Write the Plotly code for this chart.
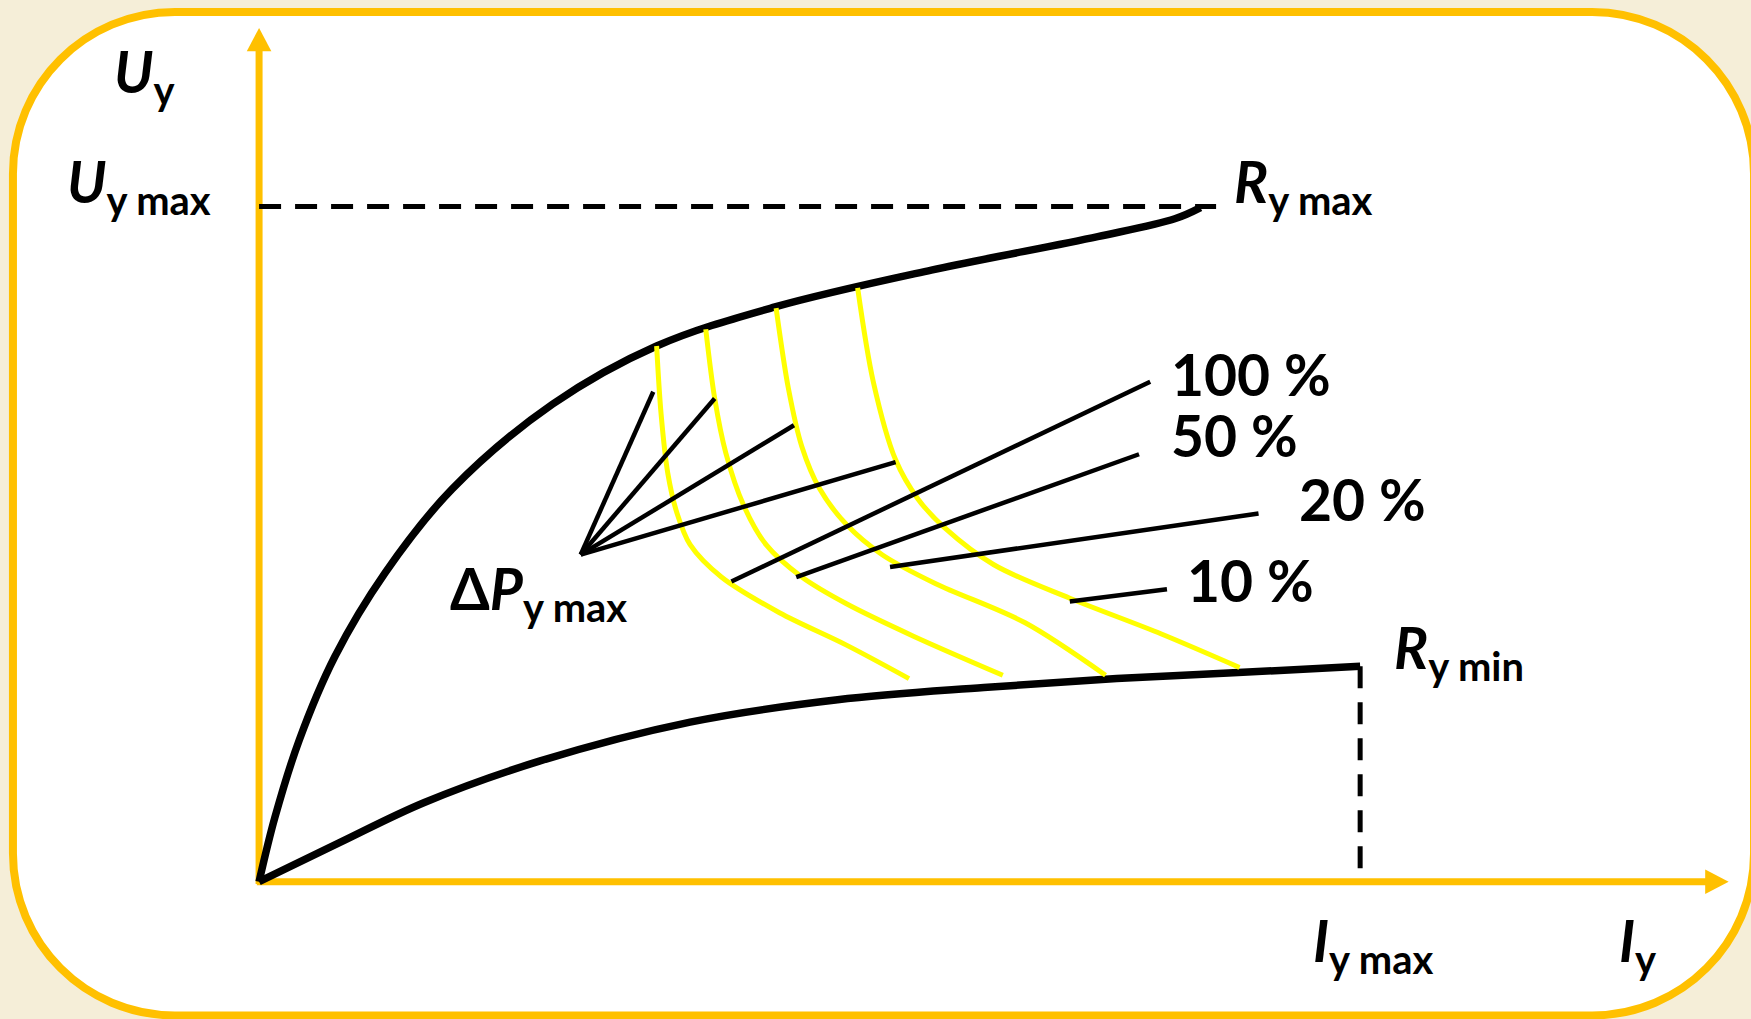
import plotly.graph_objects as go

# ---------------- data (diagram units = reference picture px / 1.1167) ----------------
# upper characteristic R_y max
r_max_x = [232, 246, 268, 300, 345, 405, 495, 588, 694, 834, 983, 1052, 1075]
r_max_y = [790, 733, 663, 588, 513, 438, 362, 310, 275, 242, 212, 196, 186]
# lower characteristic R_y min
r_min_x = [232, 304, 380, 483, 618, 750, 881, 1000, 1100, 1218]
r_min_y = [790, 755, 719, 682, 647, 627, 616, 608, 603, 597]

# constant-loss curves (yellow)
y1_x = [588, 592, 598, 606, 618, 646, 698, 758, 814]
y1_y = [310, 371, 424, 459, 488, 517, 549, 578, 608]
y2_x = [632, 640, 650, 666, 686, 718, 758, 818, 898]
y2_y = [295, 357, 406, 453, 488, 517, 541, 570, 605]
y3_x = [695, 706, 718, 734, 758, 790, 838, 918, 990]
y3_y = [276, 348, 400, 438, 470, 497, 523, 558, 605]
y4_x = [768, 782, 802, 822, 846, 890, 958, 1040, 1110]
y4_y = [258, 342, 412, 447, 473, 506, 536, 568, 598]
yellow_x = [y1_x, y2_x, y3_x, y4_x]
yellow_y = [y1_y, y2_y, y3_y, y4_y]

# pointer lines
fan_origin = (520, 497)
fan_end_x = [585, 640, 711, 802]
fan_end_y = [351, 357, 381, 414]
pct_start_x = [655, 713, 797, 958]
pct_start_y = [521, 517, 508, 539]
pct_end_x = [1030, 1020, 1127, 1045]
pct_end_y = [342, 407, 460, 528]

# reference levels
origin = (232, 790)
u_max_level = 185
u_max_dash_end = 1089
i_max_level = 1218
r_min_end_y = 597
y_axis_top = 25
x_axis_right = 1548

# labels: (text, left x, cap-top y)
label_text = [
    "<b><i>U</i><sub>y</sub></b>",
    "<b><i>U</i><sub>y max</sub></b>",
    "<b><i>R</i><sub>y max</sub></b>",
    "<b>100 %</b>",
    "<b>50 %</b>",
    "<b>20 %</b>",
    "<b>10 %</b>",
    "<b>Δ<i>P</i><sub>y max</sub></b>",
    "<b><i>R</i><sub>y min</sub></b>",
    "<b><i>I</i><sub>y max</sub></b>",
    "<b><i>I</i><sub>y</sub></b>",
]
label_x = [104, 62, 1107, 1050, 1050, 1165, 1065, 405, 1250, 1178, 1452]
label_y = [47, 145, 145, 318, 373, 430, 503, 510, 563, 825, 825]

# ---------------- styling ----------------
W, H = 1751, 1019
XR, YR = 1568, 913
GOLD = "#FFC000"
YELLOW = "#FFFF00"
BEIGE = "#F5EED8"
FONT = "Lato"

fig = go.Figure()

# main curves
fig.add_trace(go.Scatter(x=r_max_x, y=r_max_y, mode="lines",
                         line=dict(color="black", width=7.5, shape="spline", smoothing=1.0)))
fig.add_trace(go.Scatter(x=r_min_x, y=r_min_y, mode="lines",
                         line=dict(color="black", width=7.5, shape="spline", smoothing=1.0)))
for xs, ys in zip(yellow_x, yellow_y):
    fig.add_trace(go.Scatter(x=xs, y=ys, mode="lines",
                             line=dict(color=YELLOW, width=5, shape="spline", smoothing=0.9)))

# pointer lines
for ex, ey in zip(fan_end_x, fan_end_y):
    fig.add_trace(go.Scatter(x=[fan_origin[0], ex], y=[fan_origin[1], ey], mode="lines",
                             line=dict(color="black", width=4.5)))
for sx, sy, ex, ey in zip(pct_start_x, pct_start_y, pct_end_x, pct_end_y):
    fig.add_trace(go.Scatter(x=[sx, ex], y=[sy, ey], mode="lines",
                             line=dict(color="black", width=4.5)))

# dashed reference lines
fig.add_trace(go.Scatter(x=[origin[0], u_max_dash_end], y=[u_max_level, u_max_level], mode="lines",
                         line=dict(color="black", width=5, dash="22px,14px")))
fig.add_trace(go.Scatter(x=[i_max_level, i_max_level], y=[r_min_end_y, origin[1]], mode="lines",
                         line=dict(color="black", width=5, dash="22px,14px")))

shapes = []
# rounded frame
L, T, R, B, r = 11.6, 10.7, 1570.7, 909.8, 145
k = 0.5523 * r
path = (f"M {L+r},{T} L {R-r},{T} C {R-r+k},{T} {R},{T+r-k} {R},{T+r} "
        f"L {R},{B-r} C {R},{B-r+k} {R-r+k},{B} {R-r},{B} "
        f"L {L+r},{B} C {L+r-k},{B} {L},{B-r+k} {L},{B-r} "
        f"L {L},{T+r} C {L},{T+r-k} {L+r-k},{T} {L+r},{T} Z")
shapes.append(dict(type="path", path=path, fillcolor="white",
                   line=dict(color=GOLD, width=8), layer="below"))
# axes
ah_len, ah_half = 21, 11
shapes.append(dict(type="line", x0=origin[0], y0=origin[1] + 2, x1=origin[0], y1=y_axis_top + ah_len - 1,
                   line=dict(color=GOLD, width=7), layer="below"))
shapes.append(dict(type="line", x0=origin[0] - 2, y0=origin[1], x1=x_axis_right - ah_len + 1, y1=origin[1],
                   line=dict(color=GOLD, width=7), layer="below"))
shapes.append(dict(type="path",
                   path=f"M {origin[0]},{y_axis_top} L {origin[0]-ah_half},{y_axis_top+ah_len} L {origin[0]+ah_half},{y_axis_top+ah_len} Z",
                   fillcolor=GOLD, line=dict(width=0), layer="below"))
shapes.append(dict(type="path",
                   path=f"M {x_axis_right},{origin[1]} L {x_axis_right-ah_len},{origin[1]-ah_half} L {x_axis_right-ah_len},{origin[1]+ah_half} Z",
                   fillcolor=GOLD, line=dict(width=0), layer="below"))

annotations = []
for t, lx, ly in zip(label_text, label_x, label_y):
    annotations.append(dict(x=lx, y=ly, xref="x", yref="y", text=t, showarrow=False,
                            xanchor="left", yanchor="top", xshift=-4, yshift=17,
                            font=dict(family=FONT, size=57, color="black")))

fig.update_layout(
    width=W, height=H, margin=dict(l=0, r=0, t=0, b=0),
    paper_bgcolor=BEIGE, plot_bgcolor=BEIGE, showlegend=False,
    xaxis=dict(range=[0, XR], visible=False, fixedrange=True),
    yaxis=dict(range=[YR, 0], visible=False, fixedrange=True),
    shapes=shapes, annotations=annotations,
)

fig.write_html("out.html", post_script="document.body.style.margin='0';",
               config={"displayModeBar": False})
